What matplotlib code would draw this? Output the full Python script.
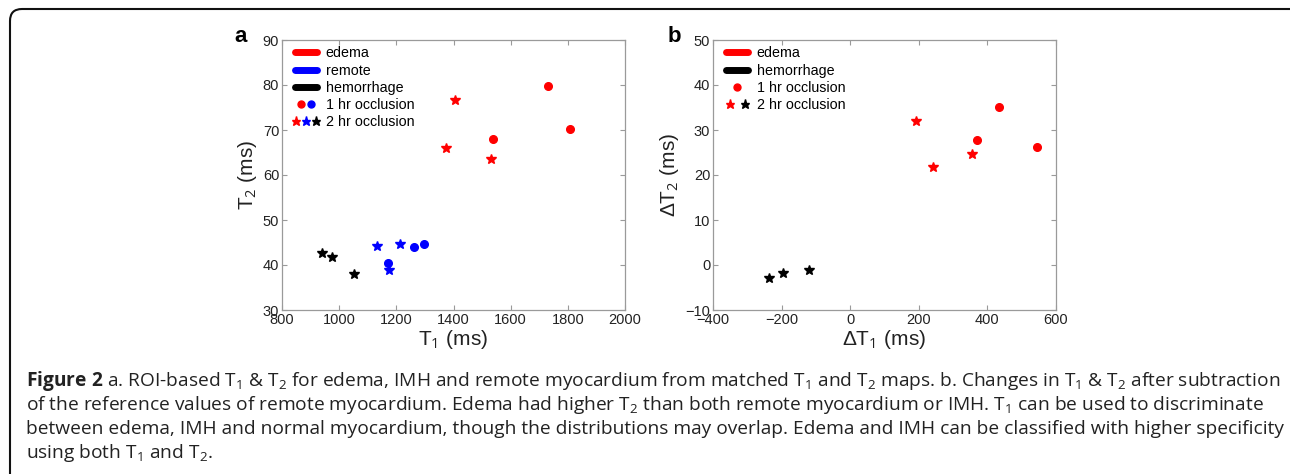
import matplotlib
matplotlib.use("Agg")
import numpy as np
import matplotlib.pyplot as plt
from matplotlib.lines import Line2D
from matplotlib.legend_handler import HandlerTuple, HandlerLine2D
from matplotlib.patches import FancyBboxPatch
from matplotlib.transforms import IdentityTransform

plt.rcParams['mathtext.fontset'] = 'custom'
plt.rcParams['mathtext.rm'] = 'Open Sans'
plt.rcParams['mathtext.it'] = 'Open Sans:italic'
plt.rcParams['mathtext.bf'] = 'Open Sans:bold'
plt.rcParams['font.family'] = ['Liberation Sans', 'DejaVu Sans']

# ---------------- data: panel a (T1, T2 in ms) ----------------
edema_1hr_t1 = [1730, 1806, 1538]
edema_1hr_t2 = [79.8, 70.2, 68.1]
edema_2hr_t1 = [1406, 1374, 1531]
edema_2hr_t2 = [76.7, 66.1, 63.6]
remote_1hr_t1 = [1170, 1263, 1297]
remote_1hr_t2 = [40.4, 43.9, 44.7]
remote_2hr_t1 = [1134, 1212, 1174]
remote_2hr_t2 = [44.2, 44.7, 38.8]
hem_2hr_t1 = [940, 974, 1053]
hem_2hr_t2 = [42.6, 41.8, 37.9]

# ---------------- data: panel b (delta T1, delta T2 in ms) ----------------
d_edema_1hr_t1 = [435, 370, 545]
d_edema_1hr_t2 = [35.1, 27.7, 26.2]
d_edema_2hr_t1 = [193, 240, 356]
d_edema_2hr_t2 = [32.0, 21.8, 24.6]
d_hem_2hr_t1 = [-238, -196, -119]
d_hem_2hr_t2 = [-2.9, -1.8, -1.1]

xticks_a = [800, 1000, 1200, 1400, 1600, 1800, 2000]
yticks_a = [30, 40, 50, 60, 70, 80, 90]
xticks_b = [-400, -200, 0, 200, 400, 600]
yticks_b = [-10, 0, 10, 20, 30, 40, 50]

caption_lines = [
    r"$\mathbf{Figure\ 2}$ a. ROI-based T$_1$ & T$_2$ for edema, IMH and remote myocardium from matched T$_1$ and T$_2$ maps. b. Changes in T$_1$ & T$_2$ after subtraction",
    r"of the reference values of remote myocardium. Edema had higher T$_2$ than both remote myocardium or IMH. T$_1$ can be used to discriminate",
    r"between edema, IMH and normal myocardium, though the distributions may overlap. Edema and IMH can be classified with higher specificity",
    r"using both T$_1$ and T$_2$.",
]

RED, BLUE, BLACK = '#ff0000', '#0000ff', '#000000'
W, H = 1290, 474
fig = plt.figure(figsize=(W / 100, H / 100), dpi=100)

def fr(x0, y0, x1, y1):
    return [x0 / W, 1 - y1 / H, (x1 - x0) / W, (y1 - y0) / H]

axa = fig.add_axes(fr(282, 40, 625, 310))
axb = fig.add_axes(fr(713, 40, 1056, 310))

CIRC = dict(marker='o', ms=5.5, ls='none')
STAR = dict(marker='*', ms=7.5, ls='none')

axa.plot(edema_1hr_t1, edema_1hr_t2, color=RED, mec=RED, **CIRC)
axa.plot(edema_2hr_t1, edema_2hr_t2, color=RED, mec=RED, **STAR)
axa.plot(remote_1hr_t1, remote_1hr_t2, color=BLUE, mec=BLUE, **CIRC)
axa.plot(remote_2hr_t1, remote_2hr_t2, color=BLUE, mec=BLUE, **STAR)
axa.plot(hem_2hr_t1, hem_2hr_t2, color=BLACK, mec=BLACK, **STAR)

axb.plot(d_edema_1hr_t1, d_edema_1hr_t2, color=RED, mec=RED, **CIRC)
axb.plot(d_edema_2hr_t1, d_edema_2hr_t2, color=RED, mec=RED, **STAR)
axb.plot(d_hem_2hr_t1, d_hem_2hr_t2, color=BLACK, mec=BLACK, **STAR)

SPINE = '#9a9a9a'
for ax, xt, yt in [(axa, xticks_a, yticks_a), (axb, xticks_b, yticks_b)]:
    ax.set_xlim(xt[0], xt[-1])
    ax.set_ylim(yt[0], yt[-1])
    ax.set_xticks(xt)
    ax.set_yticks(yt)
    for s in ax.spines.values():
        s.set_color(SPINE)
        s.set_linewidth(0.9)
    ax.tick_params(direction='in', top=True, right=True, length=3.5, width=0.8,
                   color=SPINE, labelsize=10.5, labelcolor='#222222', pad=2)

axa.set_xlabel("T$_1$ (ms)", fontsize=15, color='#222222', labelpad=1)
axa.set_ylabel("T$_2$ (ms)", fontsize=15, color='#222222', labelpad=3)
axb.set_xlabel("\u0394T$_1$ (ms)", fontsize=15, color='#222222', labelpad=1)
axb.set_ylabel("\u0394T$_2$ (ms)", fontsize=15, color='#222222', labelpad=3)


class ShortLine(HandlerLine2D):
    def get_xdata(self, legend, xdescent, ydescent, width, height, fontsize):
        xd, xm = super().get_xdata(legend, xdescent, ydescent, width, height, fontsize)
        xd = np.asarray(xd, float)
        xd = np.array([xd[0] + 3.0, xd[-1] - 3.0])
        return xd, xm


def legend(ax, groups, dots, stars):
    hmap = {}
    handles = []
    for c, _ in groups:
        h = Line2D([], [], color=c, lw=5, solid_capstyle='round')
        handles.append(h)
        hmap[h] = ShortLine()
    labels = [n for _, n in groups]
    dot_t = tuple(Line2D([], [], color=c, mec=c, marker='o', ms=5, ls='none') for c in dots)
    star_t = tuple(Line2D([], [], color=c, mec=c, marker='*', ms=6.5, ls='none') for c in stars)
    handles += [dot_t, star_t]
    labels += ["1 hr occlusion", "2 hr occlusion"]
    hmap[dot_t] = HandlerTuple(ndivide=None, pad=-0.72)
    hmap[star_t] = HandlerTuple(ndivide=None, pad=0)
    ax.legend(handles, labels, loc='upper left', bbox_to_anchor=(0.008, 1.0),
              frameon=False, fontsize=10.3, handler_map=hmap,
              handlelength=2.1, handletextpad=0.3, labelspacing=0.22,
              borderaxespad=0.15, borderpad=0.3)

legend(axa, [(RED, 'edema'), (BLUE, 'remote'), (BLACK, 'hemorrhage')],
       [RED, BLUE], [RED, BLUE, BLACK])
legend(axb, [(RED, 'edema'), (BLACK, 'hemorrhage')], [RED], [RED, BLACK])

fig.text(241 / W, 1 - 36 / H, 'a', fontsize=16, fontweight='bold', ha='center', va='center')
fig.text(674 / W, 1 - 36 / H, 'b', fontsize=16, fontweight='bold', ha='center', va='center')

for i, line in enumerate(caption_lines):
    fig.text(26 / W, 1 - (381 + 24 * i) / H, line, fontsize=13.76, family='Open Sans',
             color='#222222', ha='left', va='center')

box = FancyBboxPatch((10, -40), 1300, H - 9 + 40, boxstyle='round,pad=0,rounding_size=12',
                     transform=IdentityTransform(), fill=False, ec='#111111', lw=1.5)
fig.patches.append(box)

fig.savefig('out.png', dpi=100)
